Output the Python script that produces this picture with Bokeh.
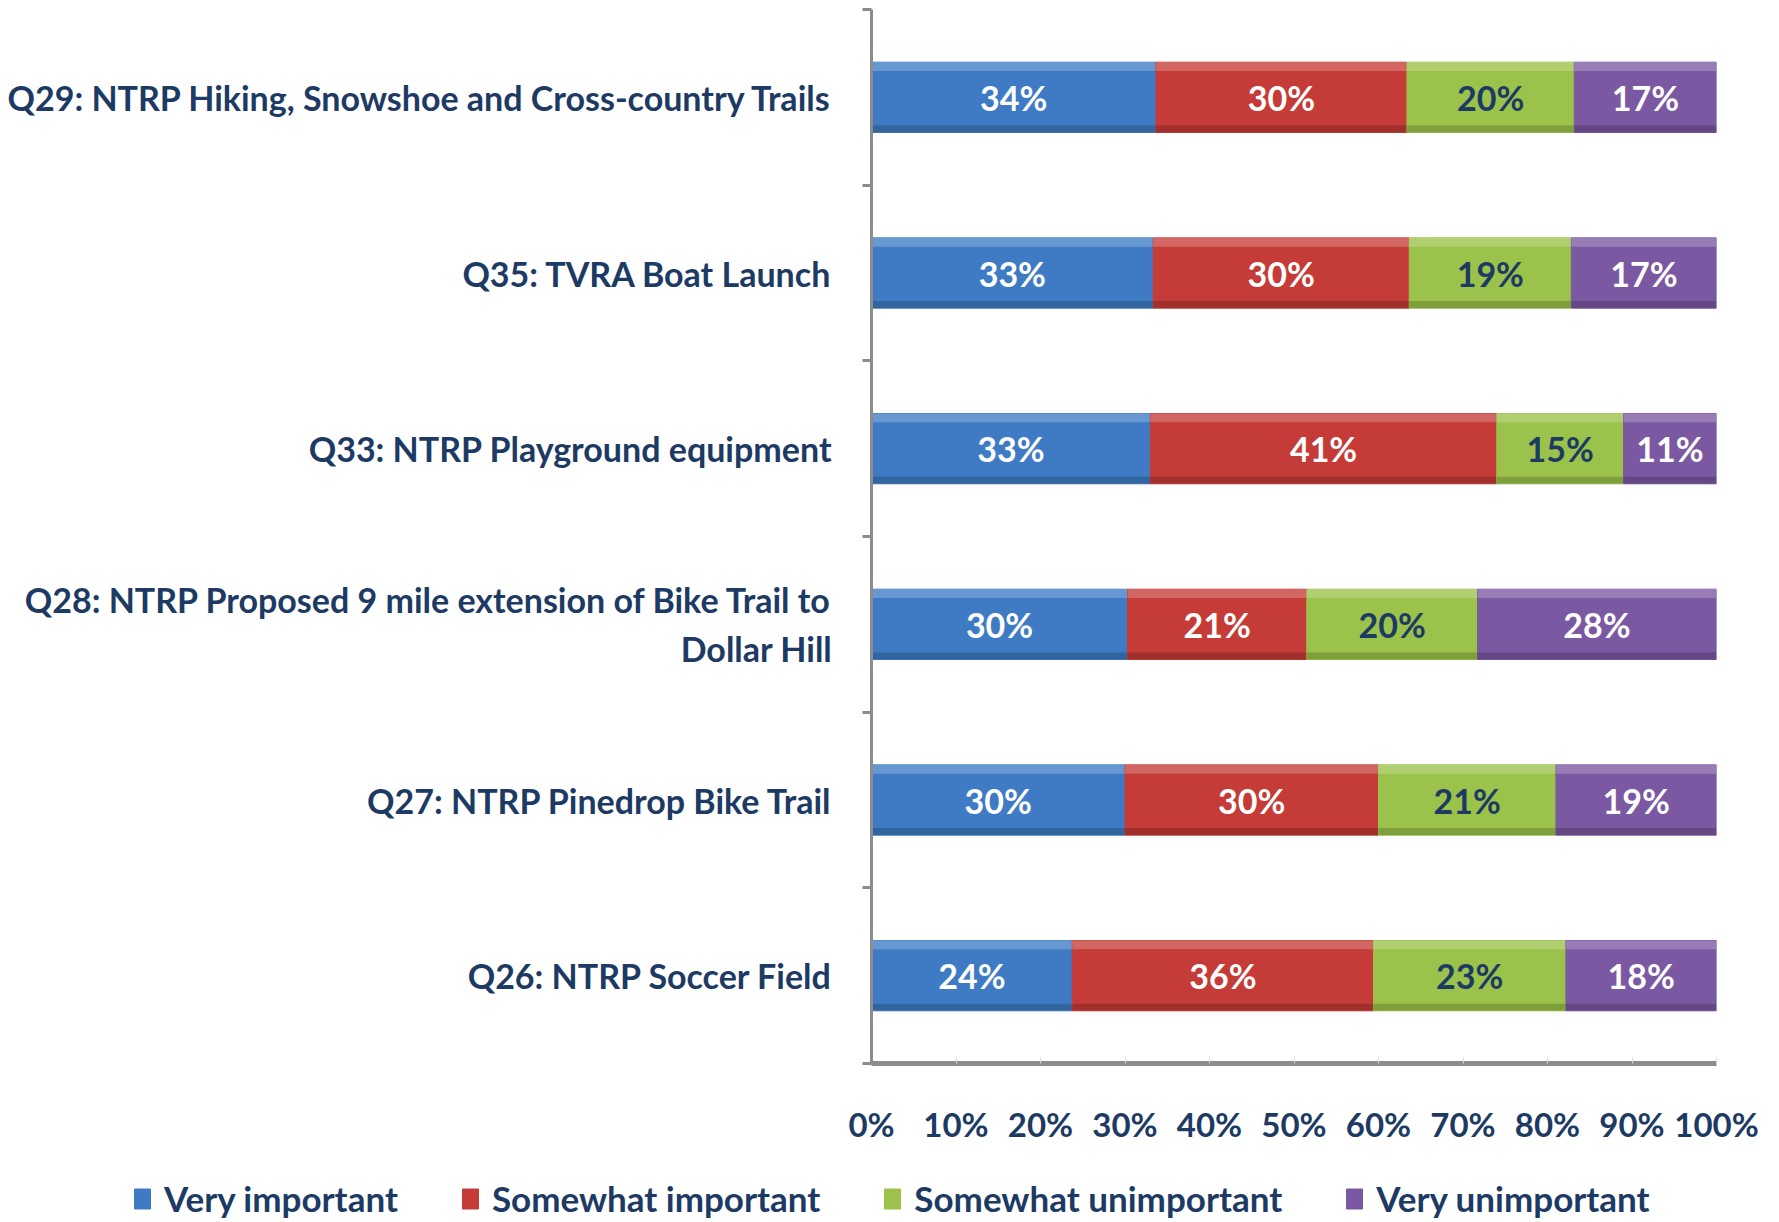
from bokeh.plotting import figure
from bokeh.models import Range1d, FixedTicker, PrintfTickFormatter, Legend, LegendItem, ColumnDataSource
from bokeh.embed import file_html
from bokeh.resources import INLINE
from bokeh.core.properties import value
from bokeh.transform import dodge

# ---------------- data ----------------
categories = [
    "Q29: NTRP Hiking, Snowshoe and Cross-country Trails",
    "Q35: TVRA Boat Launch",
    "Q33: NTRP Playground equipment",
    "Q28: NTRP Proposed 9 mile extension of Bike Trail to\nDollar Hill",
    "Q27: NTRP Pinedrop Bike Trail",
    "Q26: NTRP Soccer Field",
]
series = ["Very important", "Somewhat important", "Somewhat unimportant", "Very unimportant"]
very_important = [34, 33, 33, 30, 30, 24]
somewhat_important = [30, 30, 41, 21, 30, 36]
somewhat_unimportant = [20, 19, 15, 20, 21, 23]
very_unimportant = [17, 17, 11, 28, 19, 18]
x_ticks = [0, 10, 20, 30, 40, 50, 60, 70, 80, 90, 100]

# ---------------- style ----------------
colors = ["#3e7bc4", "#c53b37", "#9bc24a", "#7b58a2"]
label_colors = ["white", "white", "#1c3a63", "white"]
navy = "#1c3a63"
grey = "#8c8c8c"
FONT = "Lato"

values = [very_important, somewhat_important, somewhat_unimportant, very_unimportant]
n = len(categories)
ys = [n - i - 0.5 for i in range(n)]
totals = [sum(v[i] for v in values) for i in range(n)]

p = figure(frame_width=845, frame_height=1054, x_range=Range1d(0, 100), y_range=Range1d(0, n),
           output_backend="svg", toolbar_location=None,
           min_border_left=871, min_border_right=52, min_border_top=9, min_border_bottom=112)
p.outline_line_color = None
p.grid.visible = False
p.background_fill_color = "white"

# legend strip: separate root so the legend can sit under the labels without clipping
lp = figure(width=1768, height=46, x_range=Range1d(0, 1), y_range=Range1d(100, 101),
            output_backend="svg", toolbar_location=None,
            x_axis_location=None, y_axis_location=None, min_border=0)
lp.outline_line_color = None
lp.grid.visible = False

lefts = [0.0] * n
leg_renderers = []
for s_idx, (name, vals) in enumerate(zip(series, values)):
    shares = [vals[i] / totals[i] * 100 for i in range(n)]
    rights = [lefts[i] + shares[i] for i in range(n)]
    src = ColumnDataSource(dict(
        y=ys, left=lefts, right=rights,
        mid=[(lefts[i] + rights[i]) / 2 for i in range(n)],
        lab=[f"{v}%" for v in vals],
    ))
    p.hbar(y="y", left="left", right="right", height=0.4, source=src,
           fill_color=colors[s_idx], line_color=colors[s_idx], line_width=1)
    # subtle bevel highlights
    p.hbar(y=dodge("y", 0.175), left="left", right="right", height=0.05, source=src,
           fill_color="white", fill_alpha=0.22, line_color=None)
    p.hbar(y=dodge("y", -0.18), left="left", right="right", height=0.04, source=src,
           fill_color="black", fill_alpha=0.18, line_color=None)
    p.text(x="mid", y="y", text="lab", source=src, text_align="center", text_baseline="middle",
           text_font=value(FONT), text_font_style="bold", text_font_size="34px",
           text_color=label_colors[s_idx])
    # same series in the legend strip (outside its visible range, only the legend swatch shows)
    leg_renderers.append(lp.hbar(y="y", left="left", right="right", height=0.4, source=src,
                                 fill_color=colors[s_idx], line_color=colors[s_idx]))
    lefts = rights

# y axis
yax = p.yaxis[0]
yax.ticker = FixedTicker(ticks=ys, minor_ticks=list(range(n + 1)))
yax.major_label_overrides = {y: c for y, c in zip(ys, categories)}
yax.major_tick_out = 0
yax.major_tick_in = 0
yax.minor_tick_out = 9
yax.minor_tick_in = 0
yax.minor_tick_line_color = grey
yax.minor_tick_line_width = 3
yax.axis_line_color = grey
yax.axis_line_width = 3
yax.major_label_standoff = 30
yax.major_label_text_font = FONT
yax.major_label_text_font_style = "bold"
yax.major_label_text_font_size = "34px"
yax.major_label_text_color = navy

# x axis
xax = p.xaxis[0]
xax.ticker = FixedTicker(ticks=x_ticks, minor_ticks=[])
xax.formatter = PrintfTickFormatter(format="%d%%")
xax.axis_line_color = grey
xax.axis_line_width = 5
xax.major_tick_out = 0
xax.major_tick_in = 6
xax.major_tick_line_color = "#dddddd"
xax.minor_tick_line_color = None
xax.major_label_standoff = 40
xax.major_label_text_font = FONT
xax.major_label_text_font_style = "bold"
xax.major_label_text_font_size = "33px"
xax.major_label_text_color = navy

legend = Legend(items=[LegendItem(label=s, renderers=[r]) for s, r in zip(series, leg_renderers)],
                orientation="horizontal", location=(132, 2),
                glyph_width=20, glyph_height=25, label_standoff=12, spacing=62,
                padding=0, margin=0, border_line_color=None, background_fill_alpha=0,
                label_text_font=FONT, label_text_font_style="bold",
                label_text_font_size="35px", label_text_color=navy)
lp.add_layout(legend, "center")

open("out.html", "w").write(file_html([p, lp], INLINE))
